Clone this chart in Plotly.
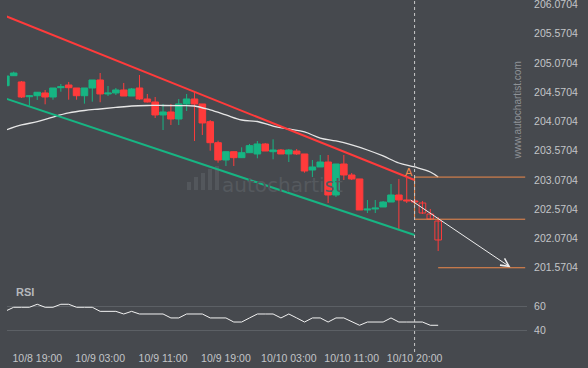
import plotly.graph_objects as go

# ---------------- data ----------------
time_tick_idx = [4, 12, 20, 28, 36, 44, 52]
time_tick_text = ["10/8 19:00", "10/9 03:00", "10/9 11:00", "10/9 19:00",
                  "10/10 03:00", "10/10 11:00", "10/10 20:00"]

open_ = [204.682, 204.853, 204.746, 204.494, 204.511, 204.558, 204.489, 204.648,
         204.694, 204.643, 204.511, 204.643, 204.780, 204.541, 204.558, 204.609,
         204.506, 204.643, 204.455, 204.404, 204.182, 204.233, 204.113, 204.370,
         204.455, 204.370, 204.067, 203.708, 203.412, 203.554, 203.452, 203.537,
         203.515, 203.686, 203.554, 203.583, 203.515, 203.566, 203.515, 203.241,
         203.293, 203.378, 202.814, 203.344, 203.156, 203.088, 202.558, 202.575,
         202.609, 202.694, 202.814, 202.729, 202.711, 202.677, 202.489, 202.369]
high = [204.848, 204.922, 204.763, 204.523, 204.575, 204.609, 204.643, 204.711,
        204.746, 204.643, 204.643, 204.780, 204.899, 204.677, 204.643, 204.729,
        204.643, 204.865, 204.541, 204.489, 204.370, 204.370, 204.455, 204.541,
        204.575, 204.370, 204.096, 203.742, 203.554, 203.554, 203.629, 203.686,
        203.737, 203.703, 203.766, 203.600, 203.600, 203.600, 203.515, 203.412,
        203.498, 203.498, 203.344, 203.498, 203.190, 203.088, 202.729, 202.729,
        202.711, 203.002, 203.088, 203.105, 202.746, 202.711, 202.575, 202.438]
low = [204.682, 204.853, 204.472, 204.341, 204.438, 204.364, 204.443, 204.580,
       204.443, 204.443, 204.375, 204.409, 204.399, 204.506, 204.523, 204.506,
       204.506, 204.438, 204.395, 204.130, 203.925, 204.011, 204.011, 204.250,
       203.737, 203.840, 203.571, 203.366, 203.310, 203.310, 203.452, 203.537,
       203.441, 203.566, 203.424, 203.515, 203.378, 203.498, 203.195, 203.122,
       203.293, 202.677, 202.780, 203.070, 203.070, 202.558, 202.506, 202.506,
       202.609, 202.694, 202.233, 202.677, 202.660, 202.489, 202.387, 201.857]
close = [204.848, 204.899, 204.489, 204.511, 204.570, 204.489, 204.643, 204.660,
         204.648, 204.511, 204.643, 204.780, 204.541, 204.558, 204.609, 204.506,
         204.626, 204.455, 204.404, 204.182, 204.233, 204.113, 204.370, 204.455,
         204.370, 204.045, 203.708, 203.412, 203.554, 203.452, 203.537, 203.657,
         203.686, 203.566, 203.583, 203.515, 203.583, 203.515, 203.224, 203.293,
         203.378, 202.814, 203.344, 203.156, 203.088, 202.558, 202.575, 202.592,
         202.694, 202.814, 202.729, 202.711, 202.694, 202.506, 202.404, 202.045]
n_solid = 53  # candles from this index on are drawn hollow (forecast zone)

ma_idx = [0, 2, 4, 6, 8, 10, 12, 14, 16, 18, 20, 22, 24, 26, 28, 30, 32, 34,
          36, 38, 40, 42, 44, 46, 48, 50, 52, 54, 55]
ma = [203.925, 204.011, 204.067, 204.147, 204.216, 204.258, 204.284, 204.310,
      204.335, 204.344, 204.344, 204.341, 204.335, 204.267, 204.182, 204.096,
      204.070, 203.993, 203.942, 203.891, 203.788, 203.737, 203.669, 203.583,
      203.481, 203.361, 203.293, 203.207, 203.122]

rsi = [56.1, 59.2, 59.2, 59.2, 61.7, 59.2, 59.2, 61.7, 61.7, 59.2, 59.2, 59.2,
       55.8, 55.8, 55.8, 53.6, 55.8, 53.6, 53.6, 53.6, 53.6, 50.3, 50.3, 53.6,
       53.6, 53.6, 50.3, 50.3, 50.3, 46.9, 46.9, 50.3, 53.6, 53.6, 53.6, 50.3,
       53.6, 50.3, 46.9, 50.3, 50.3, 46.9, 50.3, 50.3, 47.2, 44.2, 46.9, 46.9,
       46.9, 50.3, 46.9, 46.9, 46.9, 46.9, 44.2, 44.2]

price_ticks = [201.5704, 202.0704, 202.5704, 203.0704, 203.5704, 204.0704,
               204.5704, 205.0704, 205.5704, 206.0704]
rsi_ticks = [40, 60]

channel_idx = [0, 52]
channel_upper = [205.870, 203.070]
channel_lower = [204.462, 202.130]

breakout_idx = 52
level_a = 203.12
level_b = 202.40
target_level = 201.5704
level_end_idx = 66.07
target_start_idx = 55
arrow_from = (51.3, 202.746)
arrow_to = (64.2, 201.578)
point_a = (51.3, 203.207)

# ---------------- style ----------------
BG = "#46494e"
UP = "#17b583"
DN = "#ff3b3b"
TXT = "#c3c5c8"
ORANGE = "#f08a4b"
FONT = "Liberation Sans, Arial, sans-serif"
MIN_BODY = 0.018

W, H = 588, 368
ML, MR, MT, MB = 7, 61, 0, 23
PW, PH = W - ML - MR, H - MT - MB


def px_x(x):
    return (x - ML) / PW


def px_y(y):
    return (PH - (y - MT)) / PH


idx = list(range(len(open_)))
is_up = [c >= o for o, c in zip(open_, close)]
body_base = [min(o, c) for o, c in zip(open_, close)]
body_len = [max(abs(c - o), MIN_BODY) for o, c in zip(open_, close)]

fig = go.Figure()

# wicks
for up_flag, col in [(True, UP), (False, DN)]:
    wx, wy = [], []
    for i in idx:
        if is_up[i] == up_flag:
            wx += [i, i, None]
            wy += [low[i], high[i], None]
    fig.add_trace(go.Scatter(x=wx, y=wy, mode="lines", line=dict(color=col, width=1),
                             xaxis="x", yaxis="y", hoverinfo="skip", showlegend=False))

# bodies
fill_cols = []
line_cols = []
for i in idx:
    col = UP if is_up[i] else DN
    fill_cols.append(col if i < n_solid else BG)
    line_cols.append(col)
fig.add_trace(go.Bar(x=idx, y=body_len, base=body_base, width=0.84,
                     marker=dict(color=fill_cols, line=dict(color=line_cols, width=1)),
                     xaxis="x", yaxis="y", hoverinfo="skip", showlegend=False))

fig.add_trace(go.Scatter(x=ma_idx, y=ma, mode="lines",
                         line=dict(color="#e6e6e6", width=1.3, shape="spline"),
                         xaxis="x", yaxis="y", hoverinfo="skip", showlegend=False))
fig.add_trace(go.Scatter(x=channel_idx, y=channel_upper, mode="lines",
                         line=dict(color=DN, width=2),
                         xaxis="x", yaxis="y", hoverinfo="skip", showlegend=False))
fig.add_trace(go.Scatter(x=channel_idx, y=channel_lower, mode="lines",
                         line=dict(color=UP, width=2),
                         xaxis="x", yaxis="y", hoverinfo="skip", showlegend=False))

# orange levels
fig.add_trace(go.Scatter(
    x=[level_end_idx, breakout_idx, breakout_idx, level_end_idx, None,
       target_start_idx, level_end_idx],
    y=[level_a, level_a, level_b, level_b, None, target_level, target_level],
    mode="lines", line=dict(color=ORANGE, width=1),
    xaxis="x", yaxis="y", hoverinfo="skip", showlegend=False))

# RSI
fig.add_trace(go.Scatter(x=idx, y=rsi, mode="lines",
                         line=dict(color="#f2f2f2", width=1),
                         xaxis="x2", yaxis="y2", hoverinfo="skip", showlegend=False))

# dashed vertical line
fig.add_shape(type="line", xref="x", yref="paper", x0=breakout_idx, x1=breakout_idx,
              y0=px_y(352), y1=1, line=dict(color="#c9c9c9", width=1, dash="3px,3px"))

# arrow
fig.add_annotation(x=arrow_to[0], y=arrow_to[1], ax=arrow_from[0], ay=arrow_from[1],
                   xref="x", yref="y", axref="x", ayref="y", text="",
                   showarrow=True, arrowhead=5, arrowsize=1.6, arrowwidth=1,
                   arrowcolor="#eeeeee")
fig.add_annotation(x=point_a[0], y=point_a[1], xref="x", yref="y", text="A",
                   showarrow=False, font=dict(color=ORANGE, size=11, family=FONT))

fig.add_annotation(x=px_x(14), y=px_y(292), xref="paper", yref="paper", text="<b>RSI</b>",
                   showarrow=False, xanchor="left", yanchor="middle",
                   font=dict(color="#b5b8bc", size=11, family=FONT))
fig.add_annotation(x=px_x(524), y=px_y(60), xref="paper", yref="paper",
                   text="www.autochartist.com", textangle=-90, showarrow=False,
                   font=dict(color="#8f9297", size=10, family=FONT))

# watermark
fig.add_annotation(x=px_x(282), y=px_y(185), xref="paper", yref="paper",
                   text="autochartist", showarrow=False,
                   font=dict(color="#55595e", size=20, family="DejaVu Sans"))
for bx, top in [(187, 182), (194, 177), (201, 173), (208, 169), (215, 166)]:
    fig.add_shape(type="rect", xref="paper", yref="paper",
                  x0=px_x(bx), x1=px_x(bx + 4), y0=px_y(190), y1=px_y(top),
                  line=dict(width=0), fillcolor="#53575c", layer="below")

fig.update_layout(
    width=W, height=H,
    margin=dict(l=ML, r=MR, t=MT, b=MB, autoexpand=False),
    paper_bgcolor=BG, plot_bgcolor=BG,
    font=dict(family=FONT, color=TXT, size=10.5),
    showlegend=False, barmode="overlay",
    xaxis=dict(domain=[0, 1], range=[0.15, 66.3], anchor="y", showticklabels=False,
               showgrid=False, zeroline=False, matches="x2"),
    xaxis2=dict(domain=[0, 1], range=[0.15, 66.3], anchor="y2",
                tickmode="array", tickvals=time_tick_idx, ticktext=time_tick_text,
                showgrid=False, zeroline=False, ticks="outside", ticklen=3,
                tickcolor=BG, tickfont=dict(color=TXT, size=10.5)),
    yaxis=dict(domain=[px_y(280), 1], range=[201.361, 206.147], side="right",
               tickmode="array", tickvals=price_ticks,
               ticktext=[f"{v:.4f}" for v in price_ticks],
               showgrid=False, zeroline=False, ticks="outside", ticklen=4,
               tickcolor=BG, tickfont=dict(color=TXT, size=10.5),
               ticklabeloverflow="allow"),
    yaxis2=dict(domain=[0, px_y(290)], range=[27.75, 73.6], side="right",
                tickmode="array", tickvals=rsi_ticks, showgrid=True,
                gridcolor="#5c6065", gridwidth=1, zeroline=False,
                ticks="outside", ticklen=4, tickcolor=BG,
                tickfont=dict(color=TXT, size=10.5)),
)

fig.write_html("out.html", config={"displayModeBar": False},
               post_script="document.body.style.margin='0';document.body.style.overflow='hidden';")
